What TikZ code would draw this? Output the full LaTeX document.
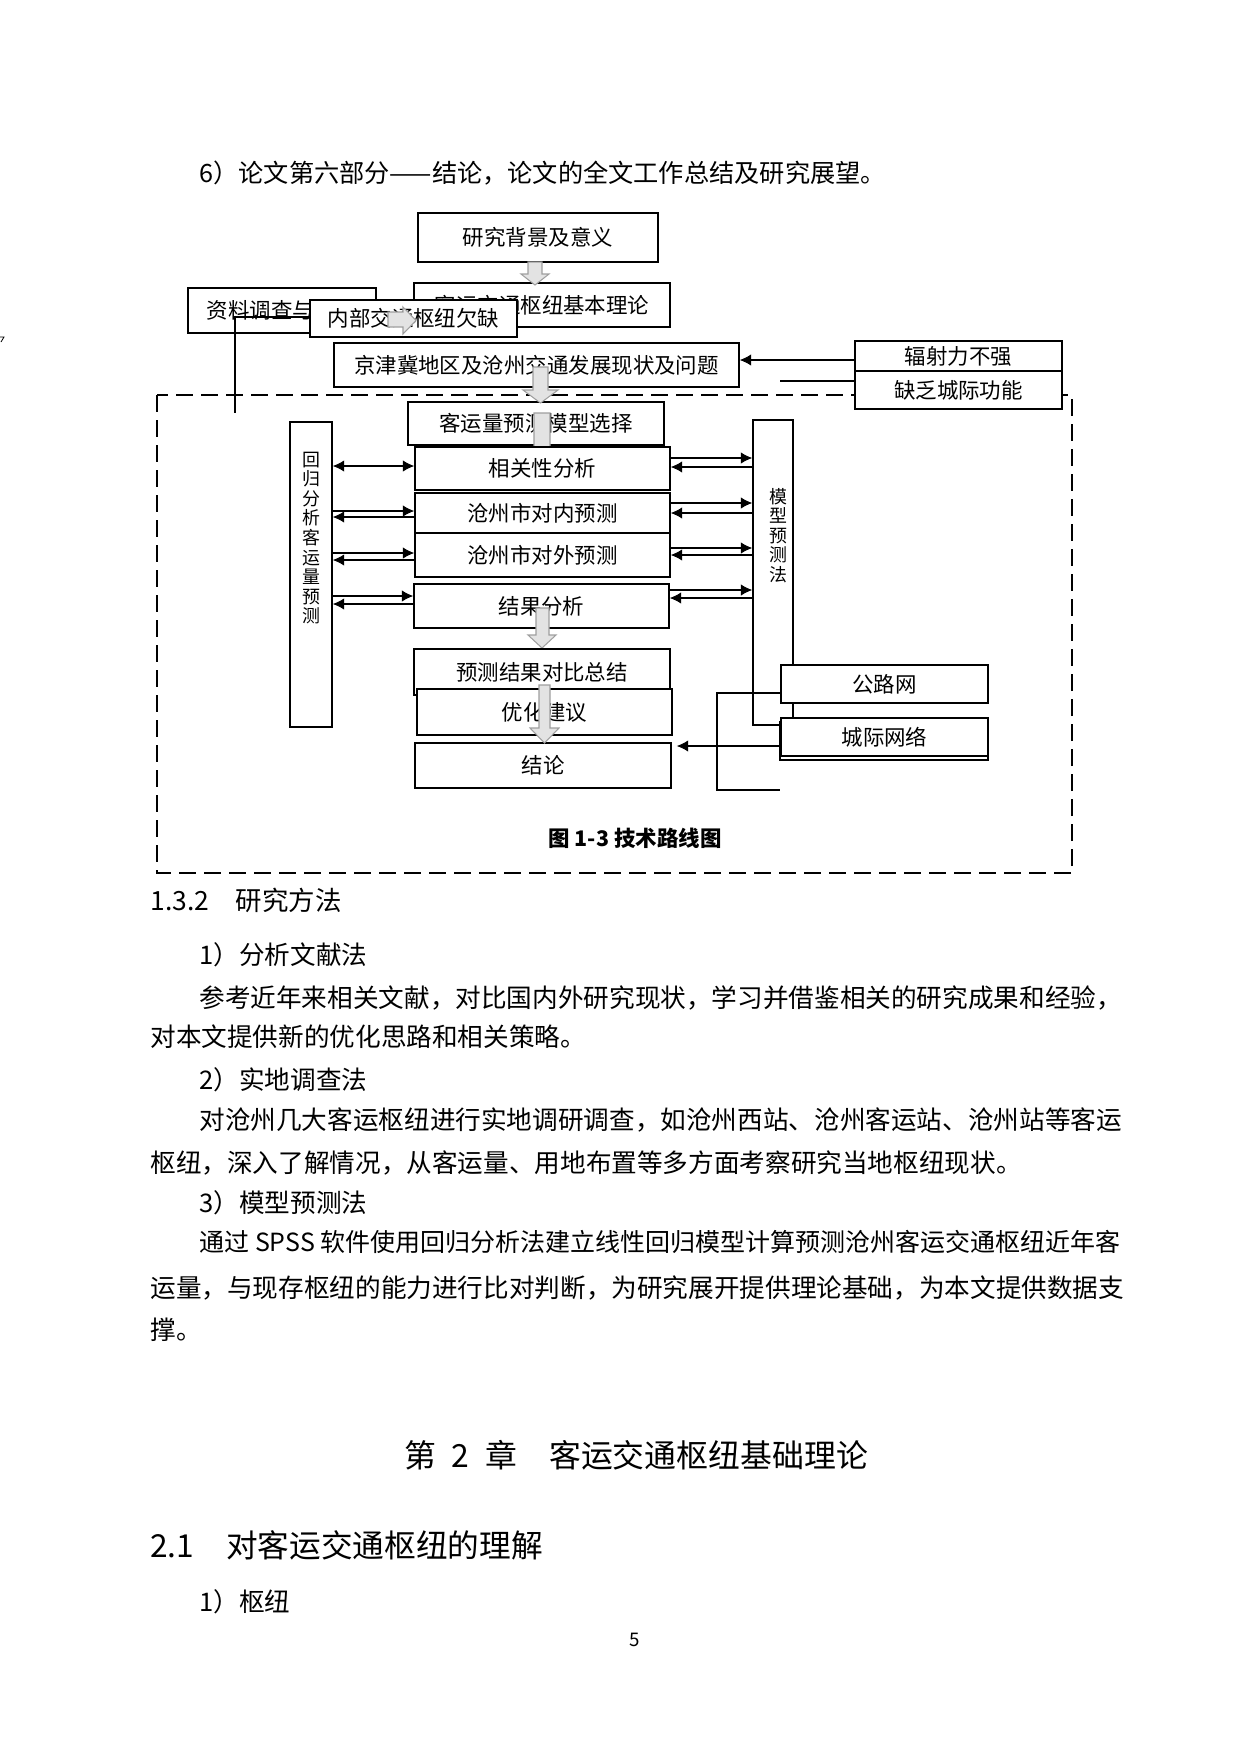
\documentclass[tikz,border=0pt]{standalone}
\usepackage{fontspec}
\setmainfont{Noto Sans CJK SC}
\usetikzlibrary{arrows.meta}

\begin{document}
\begin{tikzpicture}[x=0.48pt, y=-0.48pt,
    box/.style={draw, line width=0.7pt, fill=white, inner sep=0pt, font=\fontsize{10.3}{12}\selectfont},
    para/.style={anchor=west, inner sep=0pt, font=\fontsize{12.3}{14}\selectfont},
    vtxt/.style={align=center, inner sep=0pt, font=\fontsize{8.6}{9.4}\selectfont},
    arr/.style={line width=0.5pt, -{Latex[length=5.5pt,width=5.5pt]}},
    darr/.style={line width=0.5pt, {Latex[length=5.5pt,width=5.5pt]}-{Latex[length=5.5pt,width=5.5pt]}},
    blk/.style={draw=gray!75, fill=gray!22, line width=0.5pt}]
    \useasboundingbox (0,0) rectangle (1240,1754);
    \draw[line width=0.4pt] (0,337) -- (4,337) -- (1,342);

    % page text
    \node[para, font=\fontsize{12.1}{14}\selectfont] (p6) at (199,173) {6）论文第六部分——结论，论文的全文工作总结及研究展望。};
    \node[para, font=\fontsize{12.7}{15}\selectfont] (h132) at (150,900) {1.3.2\quad 研究方法};
    \node[para] (m1) at (199,955) {1）分析文献法};
    \node[para] (m1a) at (199,998) {参考近年来相关文献，对比国内外研究现状，学习并借鉴相关的研究成果和经验，};
    \node[para] (m1b) at (150,1037) {对本文提供新的优化思路和相关策略。};
    \node[para] (m2) at (199,1080) {2）实地调查法};
    \node[para] (m2a) at (199,1120) {对沧州几大客运枢纽进行实地调研调查，如沧州西站、沧州客运站、沧州站等客运};
    \node[para] (m2b) at (150,1163) {枢纽，深入了解情况，从客运量、用地布置等多方面考察研究当地枢纽现状。};
    \node[para] (m3) at (199,1203) {3）模型预测法};
    \node[para, font=\fontsize{12}{14}\selectfont] (m3a) at (199,1242) {通过 SPSS 软件使用回归分析法建立线性回归模型计算预测沧州客运交通枢纽近年客};
    \node[para] (m3b) at (150,1288) {运量，与现存枢纽的能力进行比对判断，为研究展开提供理论基础，为本文提供数据支};
    \node[para] (m3c) at (150,1330) {撑。};
    \node[inner sep=0pt, font=\fontsize{15.3}{18}\selectfont] (ch2) at (636,1455) {第\enspace 2\enspace 章\quad 客运交通枢纽基础理论};
    \node[para, font=\fontsize{15.2}{18}\selectfont] (s21) at (150,1545) {2.1\quad 对客运交通枢纽的理解};
    \node[para] (n1) at (199,1602) {1）枢纽};
    \node[inner sep=0pt, font=\fontsize{9}{11}\selectfont] (pg) at (635,1640) {5};

    % dashed frame
    \draw[line width=1pt, dash pattern=on 8pt off 4pt] (157,395) rectangle (1072,873);

    \node[box, minimum width=115.2pt, minimum height=23.5pt] (bg) at (538,237.5) {研究背景及意义};
    \node[box, minimum width=122.9pt, minimum height=21.1pt] (kt) at (542,305) {客运交通枢纽基本理论};
    \draw[blk] (528,262) -- (542,262) -- (542,274) -- (549,274) -- (535,285) -- (521,274) -- (528,274) -- cycle;

    \node[box, minimum width=90.2pt, minimum height=21.6pt] (zl) at (282,310.5) {资料调查与分析};
    \coordinate (zlend) at (235,413);
    \node[box, minimum width=99.4pt, minimum height=17.8pt] (nb) at (413.5,318.5) {内部交通枢纽欠缺};
    \draw[line width=0.5pt] (nb.west |- 0,317) -| (zlend);
    \draw[blk] (388,312) -- (403,312) -- (403,307) -- (416,320.5) -- (403,334) -- (403,327) -- (388,327) -- cycle;

    \node[box, minimum width=194.4pt, minimum height=21.1pt] (jj) at (536.5,365) {京津冀地区及沧州交通发展现状及问题};
    \node[box, minimum width=99.4pt, minimum height=14.4pt] (fs) at (958.5,356) {辐射力不强};
    \node[box, minimum width=99.4pt, minimum height=18.2pt] (qf) at (958.5,390) {缺乏城际功能};
    \coordinate (qfend) at (780,381);
    \draw[arr] (fs.west |- 0,360) -- (jj.east |- 0,360);
    \draw[line width=0.5pt] (qf.west |- 0,381) -- (qfend);

    \node[box, minimum width=122.9pt, minimum height=20.6pt] (xz) at (536,423.5) {客运量预测模型选择};
    \draw[blk] (533,367) -- (548,367) -- (548,390) -- (558,390) -- (540.5,403) -- (523,390) -- (533,390) -- cycle;
    \draw[blk] (534,413) -- (550,413) -- (550,447) -- (557,447) -- (542,460) -- (527,447) -- (534,447) -- cycle;

    \node[box, minimum width=122.4pt, minimum height=20.6pt] (xg) at (542.5,468.5) {相关性分析};
    \node[box, minimum width=122.4pt, minimum height=19.2pt] (dn) at (542.5,513) {沧州市对内预测};
    \node[box, minimum width=122.4pt, minimum height=21.1pt] (dw) at (542.5,555) {沧州市对外预测};
    \node[box, minimum width=122.4pt, minimum height=21.1pt] (jg) at (541.5,606) {结果分析};
    \draw[blk] (536,608) -- (549,608) -- (549,635) -- (556,635) -- (542,648) -- (528,635) -- (536,635) -- cycle;
    \node[box, minimum width=122.9pt, minimum height=22.1pt] (db) at (542,672) {预测结果对比总结};
    \node[box, minimum width=122.4pt, minimum height=22.1pt] (yh) at (544.5,712) {优化建议};
    \node[box, minimum width=122.9pt, minimum height=21.6pt] (jl) at (543,765.5) {结论};
    \draw[blk] (539,685) -- (550,685) -- (550,728) -- (559,728) -- (544.5,743) -- (530,728) -- (539,728) -- cycle;

    % side columns
    \node[box, minimum width=20.2pt, minimum height=146.4pt] (hg) at (311,574.5) {};
    \node[vtxt] (hgt) at (311,538) {回\\归\\分\\析\\客\\运\\量\\预\\测};
    \node[box, minimum width=19.2pt, minimum height=146.4pt] (mx) at (773,572.5) {};
    \node[vtxt] (mxt) at (778,535.5) {模\\型\\预\\测\\法};

    \draw[darr] (hg.east |- 0,466) -- (xg.west |- 0,466);
    \draw[arr] (hg.east |- 0,511) -- (dn.west |- 0,511);
    \draw[arr] (dn.west |- 0,517) -- (hg.east |- 0,517);
    \draw[arr] (hg.east |- 0,553) -- (dw.west |- 0,553);
    \draw[arr] (dw.west |- 0,560) -- (hg.east |- 0,560);
    \draw[arr] (hg.east |- 0,596) -- (jg.west |- 0,596);
    \draw[arr] (jg.west |- 0,604) -- (hg.east |- 0,604);

    \draw[arr] (xg.east |- 0,458) -- (mx.west |- 0,458);
    \draw[arr] (mx.west |- 0,467) -- (xg.east |- 0,467);
    \draw[arr] (dn.east |- 0,503) -- (mx.west |- 0,503);
    \draw[arr] (mx.west |- 0,513) -- (dn.east |- 0,513);
    \draw[arr] (dw.east |- 0,548) -- (mx.west |- 0,548);
    \draw[arr] (mx.west |- 0,555) -- (dw.east |- 0,555);
    \draw[arr] (jg.east |- 0,590) -- (mx.west |- 0,590);
    \draw[arr] (mx.west |- 0,598) -- (jg.east |- 0,598);

    \node[box, minimum width=99.4pt, minimum height=18.2pt] (gl) at (884.5,684) {公路网};
    \draw[line width=0.5pt, fill=white] (780,722) rectangle (988,760);
    \node[box, minimum width=99.4pt, minimum height=18.2pt] (cj) at (884.5,737) {城际网络};
    \coordinate (glend) at (780,790);
    \draw[line width=0.5pt] (gl.west |- 0,693) -| (717,790) -- (glend);
    \draw[arr, shorten >=2.4pt] (cj.west |- 0,746) -- (jl.east |- 0,746);

    \node[inner sep=0pt, font=\bfseries\fontsize{10.3}{12}\selectfont] (cap) at (635,838) {图 1-3 技术路线图};
\end{tikzpicture}
\end{document}
